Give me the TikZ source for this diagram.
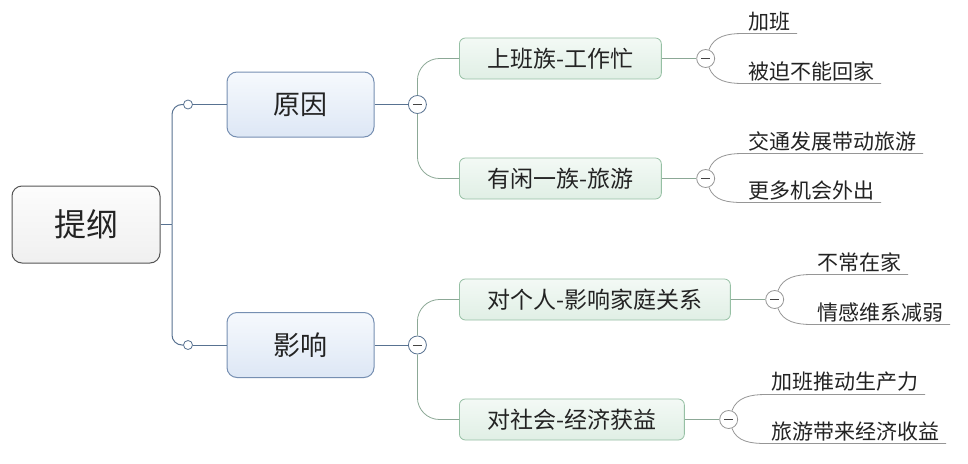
\documentclass[tikz,border=0pt]{standalone}
\usepackage{fontspec}
\setmainfont{Noto Sans CJK SC}
\usetikzlibrary{positioning}

\definecolor{inkgray}{RGB}{35,35,35}
\definecolor{rootedge}{RGB}{85,85,85}
\definecolor{spineblue}{RGB}{88,114,145}
\definecolor{mainedge}{RGB}{118,143,178}
\definecolor{maintop}{RGB}{246,249,253}
\definecolor{mainbot}{RGB}{221,231,245}
\definecolor{subedge}{RGB}{150,192,164}
\definecolor{subtop}{RGB}{243,249,245}
\definecolor{subbot}{RGB}{224,239,229}
\definecolor{subline}{RGB}{140,168,150}
\definecolor{leafgray}{RGB}{150,150,150}

\tikzset{
  rootbox/.style={draw=rootedge, line width=1pt, rounded corners=10pt,
    top color=gray!2, bottom color=gray!12, text=inkgray,
    minimum width=148pt, minimum height=77pt,
    font=\fontsize{32}{38}\selectfont},
  mainbox/.style={draw=mainedge, line width=1pt, rounded corners=10pt,
    top color=maintop, bottom color=mainbot, text=inkgray,
    minimum width=147pt, minimum height=65pt,
    font=\fontsize{27}{32}\selectfont},
  subbox/.style={draw=subedge, line width=0.8pt, rounded corners=6pt,
    top color=subtop, bottom color=subbot, text=inkgray, anchor=west,
    minimum height=41pt, inner xsep=28pt,
    font=\fontsize{23}{28}\selectfont},
  leaf/.style={anchor=south west, inner xsep=6pt, inner ysep=2.5pt,
    text=inkgray, font=\fontsize{21}{25}\selectfont},
  fold/.style={circle, draw=#1, line width=0.8pt, fill=white,
    minimum size=18pt, inner sep=0pt,
    path picture={\draw[inkgray!85, line width=1pt]
      ([xshift=-4.5pt]path picture bounding box.center) --
      ([xshift=4.5pt]path picture bounding box.center);}},
  knob/.style={circle, draw=spineblue, line width=0.8pt, fill=white,
    minimum size=9pt, inner sep=0pt},
  spine/.style={draw=spineblue, line width=1pt},
  twig/.style={draw=subline, line width=0.8pt},
  leafline/.style={draw=leafgray, line width=0.8pt},
}

\begin{document}
\begin{tikzpicture}[x=1pt,y=-1pt]
    \useasboundingbox[fill=white] (0,0) rectangle (968,463);

    % root and main branches
    \node[rootbox] (root) at (86,224.5) {提纲};
    \node[mainbox] (a1) at (300.5,104.5) {原因};
    \node[mainbox] (a2) at (300.5,345) {影响};
    \node[knob] (k1) at (188,104.5) {};
    \node[knob] (k2) at (188,345) {};
    \coordinate (j) at (172,224.5);
    \node[fold=spineblue, right=33.5pt of a1] (f1) {};
    \node[fold=spineblue, right=33.5pt of a2] (f2) {};

    \draw[spine] (root.east) -- (j);
    \draw[spine, rounded corners=10pt] (j) |- (k1);
    \draw[spine, rounded corners=10pt] (j) |- (k2);
    \draw[spine] (k1) -- (a1) (a1) -- (f1);
    \draw[spine] (k2) -- (a2) (a2) -- (f2);

    % sub branches
    \node[subbox] (b1) at (459,58.5) {上班族-工作忙};
    \node[subbox] (b2) at (459,178.5) {有闲一族-旅游};
    \node[subbox] (b3) at (459,299.5) {对个人-影响家庭关系};
    \node[subbox] (b4) at (459,419.5) {对社会-经济获益};

    \foreach \f/\b in {f1/b1, f1/b2, f2/b3, f2/b4}
      \draw[twig, rounded corners=22pt] (\f) |- (\b);

    \node[fold=leafgray, right=34.5pt of b1] (f3) {};
    \node[fold=leafgray, right=34.5pt of b2] (f4) {};
    \node[fold=leafgray, right=34.5pt of b3] (f5) {};
    \node[fold=leafgray, right=34.5pt of b4] (f6) {};
    \foreach \b/\f in {b1/f3, b2/f4, b3/f5, b4/f6}
      \draw[twig] (\b) -- (\f);

    % leaves
    \node[leaf] (l1) at ([shift={(37,-25)}]f3.center) {加班};
    \node[leaf] (l2) at ([shift={(37,25)}]f3.center) {被迫不能回家};
    \node[leaf] (l3) at ([shift={(37,-25)}]f4.center) {交通发展带动旅游};
    \node[leaf] (l4) at ([shift={(37,24)}]f4.center) {更多机会外出};
    \node[leaf] (l5) at ([shift={(37,-25)}]f5.center) {不常在家};
    \node[leaf] (l6) at ([shift={(37,25)}]f5.center) {情感维系减弱};
    \node[leaf] (l7) at ([shift={(37,-25)}]f6.center) {加班推动生产力};
    \node[leaf] (l8) at ([shift={(37,24)}]f6.center) {旅游带来经济收益};

    \foreach \f/\l/\o in {f3/l1/70, f3/l2/-70, f4/l3/70, f4/l4/-70,
                          f5/l5/70, f5/l6/-70, f6/l7/70, f6/l8/-70}
      \draw[leafline] (\f) to[out=\o,in=180] (\l.south west) -- (\l.south east);
\end{tikzpicture}
\end{document}
